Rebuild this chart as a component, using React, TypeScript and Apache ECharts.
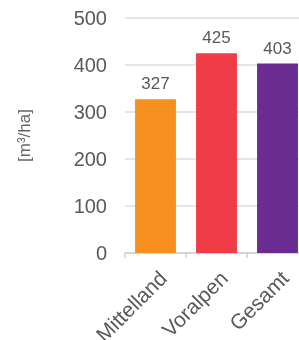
import React, { useEffect, useRef } from "react";
import * as echarts from "echarts";

const categories = ["Mittelland", "Voralpen", "Gesamt"];
const values = [327, 425, 403];
const colors = ["#F7901E", "#F03C46", "#6A2C91"];
const yTicks = { min: 0, max: 500, interval: 100 };
const yName = "[m³/ha]";

export default function App() {
  const ref = useRef<HTMLDivElement>(null);
  useEffect(() => {
    if (!ref.current) return;
    const chart = echarts.init(ref.current, null, { renderer: "svg" });
    chart.setOption({
      animation: false,
      textStyle: { fontFamily: "Liberation Sans, Arial, sans-serif" },
      grid: { left: 125, right: -9, top: 18, bottom: 87, containLabel: false, outerBoundsMode: "none" },
      xAxis: {
        type: "category",
        data: categories,
        axisLine: { lineStyle: { color: "#d0d0d0", width: 1.5 } },
        axisTick: { show: true, length: 5, lineStyle: { color: "#d0d0d0", width: 1.5 } },
        axisLabel: { rotate: 45, fontSize: 21, color: "#595959", margin: 14, verticalAlign: "top" },
      },
      yAxis: {
        type: "value",
        min: yTicks.min,
        max: yTicks.max,
        interval: yTicks.interval,
        name: yName,
        nameLocation: "middle",
        nameGap: 92,
        nameTextStyle: { fontSize: 17, color: "#666" },
        axisLine: { show: false },
        axisTick: { show: false },
        axisLabel: { fontSize: 20, color: "#595959", margin: 18 },
        splitLine: { lineStyle: { color: "#dcdcdc", width: 1.5 } },
      },
      series: [
        {
          type: "bar",
          barWidth: "67%",
          data: values.map((v, i) => ({ value: v, itemStyle: { color: colors[i] } })),
          label: { show: true, position: "top", distance: 7, fontSize: 17, color: "#595959" },
        },
      ],
    });
    return () => chart.dispose();
  }, []);
  return <div ref={ref} style={{ position: "fixed", left: 0, top: 0, width: 299, height: 340 }} />;
}
